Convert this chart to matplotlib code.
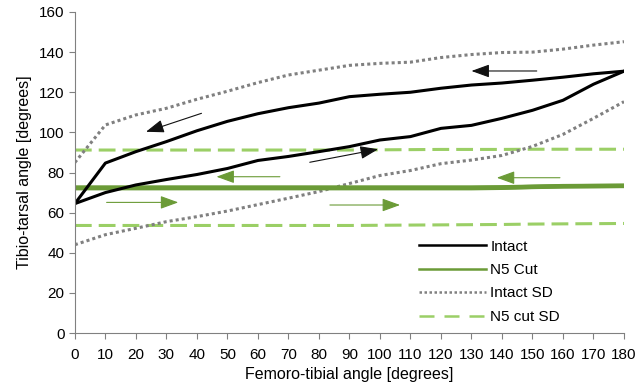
import numpy as np
import matplotlib.pyplot as plt
from matplotlib.lines import Line2D

plt.rcParams['font.family'] = ['Liberation Sans', 'DejaVu Sans']

# Femoro-tibial angle steps (degrees)
angle = [0, 10, 20, 30, 40, 50, 60, 70, 80, 90, 100, 110, 120, 130, 140, 150, 160, 170, 180]

# Intact: extension (forward) and flexion (return) branches
intact_fwd = [64.5, 70, 73.8, 76.5, 79, 82, 86, 88, 90.4, 92.9, 96.2, 97.9, 102, 103.5, 107, 111, 116, 124, 130.5]
intact_ret = [64.5, 84.7, 90.4, 95.4, 100.8, 105.5, 109.3, 112.3, 114.6, 117.8, 119, 120, 122, 123.6, 124.6, 126, 127.5, 129.2, 130.5]
intact_sd_hi = [85, 103.7, 108.7, 112, 116.5, 120.5, 124.8, 128.6, 131, 133.4, 134.4, 135, 137.3, 138.8, 139.8, 140, 141.5, 143.5, 145.2]
intact_sd_lo = [44, 49, 52.2, 55.5, 58, 60.8, 64, 67.2, 70.5, 74.5, 78.5, 81, 84.4, 86.2, 88.5, 93, 99, 107, 115.3]

# N5 cut: both branches nearly overlap
n5_fwd = [72.2] * 14 + [72.4, 72.8, 73.1, 73.2, 73.3]
n5_ret = [72.5] * 14 + [72.6, 72.9, 73.2, 73.3, 73.4]
n5_sd_hi = [91.2] * 10 + [91.3, 91.4, 91.5, 91.5, 91.5, 91.6, 91.6, 91.6, 91.6]
n5_sd_lo = [53.6] * 10 + [53.7, 53.8, 53.9, 54.0, 54.1, 54.3, 54.4, 54.5, 54.6]

# direction arrows: (tail x, tail y, head x, head y)
black_arrows = [(41.5, 109.5, 23.3, 100.3), (77, 85.1, 99.4, 91.6), (151.4, 130.6, 130, 130.6)]
green_arrows = [(67.2, 77.9, 46.4, 77.9), (10.4, 65.1, 33.9, 65.1),
                (83.6, 63.8, 106.6, 63.8), (159, 77.4, 138.3, 77.4)]

dark_green = '#6b9b37'
light_green = '#9bcf66'
dot_gray = '#808080'
sd_dash = (5.5, 2.3)

fig = plt.figure(figsize=(6.4, 3.87), dpi=100)
ax = fig.add_axes([0.117, 0.1395, 0.858, 0.8295])

ax.plot(angle, n5_sd_hi, color=light_green, lw=2.2, dashes=sd_dash)
ax.plot(angle, n5_sd_lo, color=light_green, lw=2.2, dashes=sd_dash)
ax.plot(angle, intact_sd_hi, color=dot_gray, lw=2.2, dashes=(1, 1))
ax.plot(angle, intact_sd_lo, color=dot_gray, lw=2.2, dashes=(1, 1))
ax.plot(angle, n5_fwd, color=dark_green, lw=3.2)
ax.plot(angle, n5_ret, color=dark_green, lw=3.2)
ax.plot(angle, intact_fwd, color='black', lw=2.2)
ax.plot(angle, intact_ret, color='black', lw=2.2)

for x0, y0, x1, y1 in black_arrows:
    ax.annotate('', xy=(x1, y1), xytext=(x0, y0),
                arrowprops=dict(arrowstyle='-|>,head_length=1.1,head_width=0.4',
                                color='#111111', lw=0.8, shrinkA=0, shrinkB=0))
for x0, y0, x1, y1 in green_arrows:
    ax.annotate('', xy=(x1, y1), xytext=(x0, y0),
                arrowprops=dict(arrowstyle='-|>,head_length=1.1,head_width=0.4',
                                color=dark_green, lw=0.8, shrinkA=0, shrinkB=0))

ax.set_xlim(0, 180)
ax.set_ylim(0, 160)
ax.set_xticks(range(0, 181, 10))
ax.set_yticks(range(0, 161, 20))
ax.tick_params(direction='out', length=4.5, color='#808080', labelsize=11)
ax.tick_params(axis='x', pad=6)
ax.tick_params(axis='y', pad=3)
for side in ['top', 'right']:
    ax.spines[side].set_visible(False)
for side in ['left', 'bottom']:
    ax.spines[side].set_color('#808080')
ax.set_xlabel('Femoro-tibial angle [degrees]', fontsize=11.5, labelpad=4)
ax.set_ylabel('Tibio-tarsal angle [degrees]', fontsize=11.5, labelpad=5)

handles = [
    Line2D([], [], color='black', lw=1.8),
    Line2D([], [], color=dark_green, lw=1.8),
    Line2D([], [], color=dot_gray, lw=1.8, dashes=(1, 1)),
    Line2D([], [], color=light_green, lw=1.8, dashes=(6, 4)),
]
labels = ['Intact', 'N5 Cut', 'Intact SD', 'N5 cut SD']
fig.legend(handles, labels, loc='upper left', bbox_to_anchor=(0.654, 0.381),
           frameon=False, fontsize=11, handlelength=4.4, handletextpad=0.3,
           labelspacing=0.62, borderpad=0, borderaxespad=0)

fig.savefig('out.png', dpi=100)
